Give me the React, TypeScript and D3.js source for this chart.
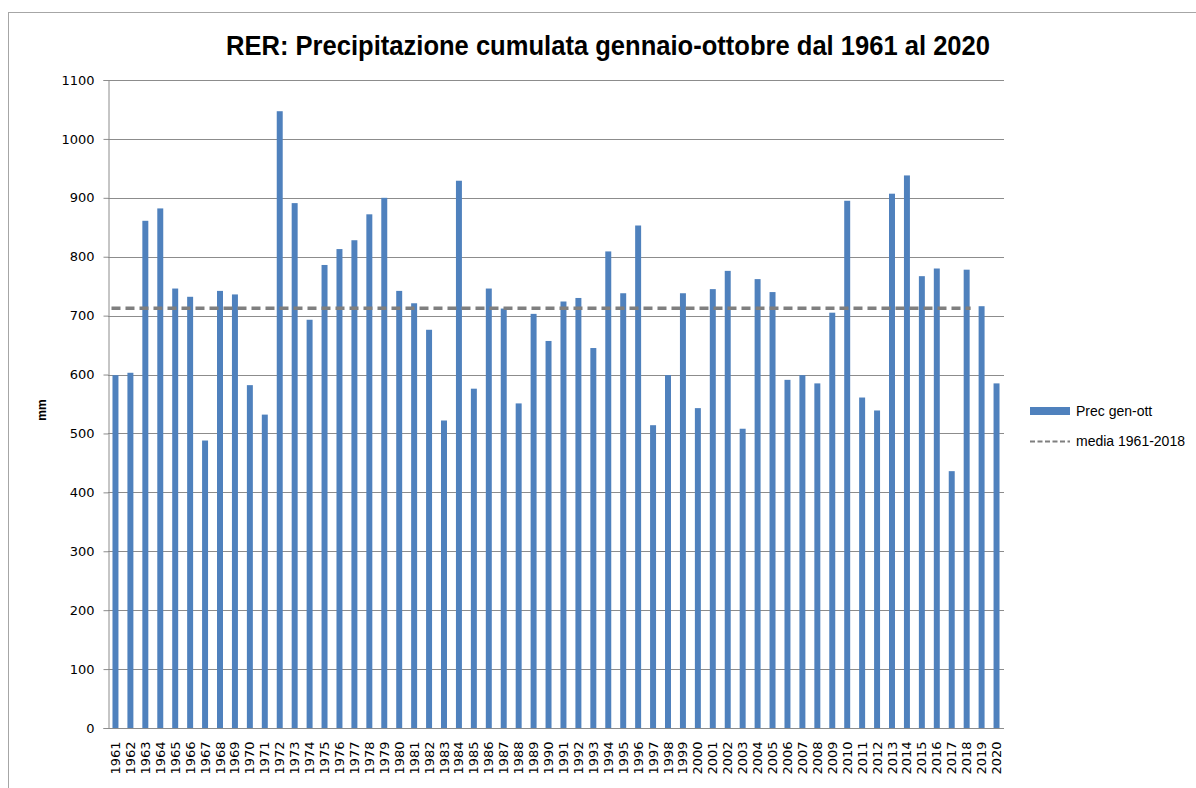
import React, {useEffect, useRef} from "react";
import * as d3 from "d3";

// valori (mm)
const years: number[] = d3.range(1961, 2021);
const precValues: number[] = [
    599, 603, 861, 882, 746, 732, 488, 742, 736, 582,
    532, 1047, 891, 693, 786, 813, 828, 872, 900, 742,
    721, 676, 522, 929, 576, 746, 712, 551, 703, 657,
    724, 730, 645, 809, 738, 853, 514, 599, 738, 543,
    745, 776, 508, 762, 740, 591, 599, 585, 705, 895,
    561, 539, 907, 938, 767, 780, 436, 778, 716, 585
];
const mediaValue = 712.5;
const mediaFrom = 1961;
const mediaTo = 2018;
const yTicks: number[] = d3.range(0, 1101, 100);
const legendLabels: string[] = ["Prec gen-ott", "media 1961-2018"];
const titleText = "RER: Precipitazione cumulata gennaio-ottobre dal 1961 al 2020";

const svgWidth = 1196,
    svgHeight = 788,
    left = 108,
    right = 1004,
    top = 80,
    bottom = 728;

const App = () => {
    const ref = useRef<SVGSVGElement>(null);

    useEffect(() => {
        const svg = d3.select(ref.current);
        svg.selectAll("*").remove();

        // cornice del grafico
        svg.append("rect")
            .attr("x", 8.5).attr("y", 12.5)
            .attr("width", svgWidth).attr("height", svgHeight)
            .attr("fill", "white")
            .attr("stroke", "#a6a6a6");

        const xScale = d3.scaleBand<number>()
            .domain(years)
            .range([left, right])
            .paddingInner(0.6)
            .paddingOuter(0.3);
        const yScale = d3.scaleLinear()
            .domain([0, 1100])
            .range([bottom, top]);

        // griglia
        svg.append("g")
            .selectAll("line")
            .data(yTicks.filter(t => t > 0))
            .enter()
            .append("line")
            .attr("x1", left).attr("x2", right)
            .attr("y1", d => Math.round(yScale(d)) + 0.5)
            .attr("y2", d => Math.round(yScale(d)) + 0.5)
            .attr("stroke", "#8c8c8c");

        // barre
        svg.append("g")
            .selectAll("rect")
            .data(precValues)
            .enter()
            .append("rect")
            .attr("x", (d, i) => xScale(years[i])!)
            .attr("width", xScale.bandwidth())
            .attr("y", d => yScale(d))
            .attr("height", d => yScale(0) - yScale(d))
            .attr("fill", "#4f81bd");

        // media
        const half = xScale.step() * 0.2;
        svg.append("line")
            .attr("x1", xScale(mediaFrom)! - half + 2)
            .attr("x2", xScale(mediaTo)! + xScale.bandwidth() + half - 2)
            .attr("y1", yScale(mediaValue))
            .attr("y2", yScale(mediaValue))
            .attr("stroke", "#7f7f7f")
            .attr("stroke-width", 3.5)
            .attr("stroke-dasharray", "9 5");

        // asse y
        const yAxis = d3.axisLeft(yScale)
            .tickValues(yTicks)
            .tickSize(5)
            .tickPadding(9)
            .tickFormat(d3.format("d"));
        const gy = svg.append("g")
            .attr("transform", "translate(" + (left + 0.5) + ",0)")
            .call(yAxis);
        gy.select(".domain").attr("stroke", "#8c8c8c");
        gy.selectAll(".tick line").attr("stroke", "#8c8c8c");
        gy.selectAll("text")
            .attr("font-family", "DejaVu Sans, Verdana, sans-serif")
            .attr("font-size", 13)
            .attr("fill", "#000");

        // asse x
        const xAxis = d3.axisBottom(xScale).tickSize(0).tickPadding(0);
        const gx = svg.append("g")
            .attr("transform", "translate(0," + (bottom + 0.5) + ")")
            .call(xAxis);
        gx.select(".domain").attr("stroke", "#8c8c8c").attr("d", "M" + left + ",0H" + right);
        gx.selectAll("text")
            .attr("font-family", "DejaVu Sans, Verdana, sans-serif")
            .attr("font-size", 13)
            .attr("fill", "#000")
            .attr("text-anchor", "end")
            .attr("dy", "0.35em")
            .attr("transform", "translate(0,13) rotate(-90)")
            .attr("x", 0).attr("y", 0);

        // etichetta asse y
        svg.append("text")
            .attr("transform", "translate(46,410) rotate(-90)")
            .attr("text-anchor", "middle")
            .attr("font-family", "Liberation Sans, Arial, sans-serif")
            .attr("font-weight", "bold")
            .attr("font-size", 12)
            .text("mm");

        // titolo
        svg.append("text")
            .attr("x", 226).attr("y", 55)
            .attr("textLength", 764)
            .attr("lengthAdjust", "spacingAndGlyphs")
            .attr("font-family", "Liberation Sans Narrow, Liberation Sans, Arial, sans-serif")
            .attr("font-weight", "bold")
            .attr("font-size", 27)
            .text(titleText);

        // legenda
        const lg = svg.append("g").attr("transform", "translate(1030,0)");
        lg.append("rect")
            .attr("x", 0).attr("y", 407)
            .attr("width", 40).attr("height", 8)
            .attr("fill", "#4f81bd");
        lg.append("line")
            .attr("x1", 0).attr("x2", 40)
            .attr("y1", 441.5).attr("y2", 441.5)
            .attr("stroke", "#7f7f7f")
            .attr("stroke-width", 2)
            .attr("stroke-dasharray", "5 2.5");
        lg.selectAll("text.leg")
            .data(legendLabels)
            .enter()
            .append("text")
            .attr("class", "leg")
            .attr("x", 46)
            .attr("y", (d, i) => 416 + i * 30)
            .attr("font-family", "Liberation Sans Narrow, Liberation Sans, Arial, sans-serif")
            .attr("font-size", 14)
            .text(d => d);
    }, []);

    return (
        <svg ref={ref} width={svgWidth} height={svgHeight}
             style={{position: "absolute", left: 0, top: 0, background: "white"}}/>
    );
};

export default App;
